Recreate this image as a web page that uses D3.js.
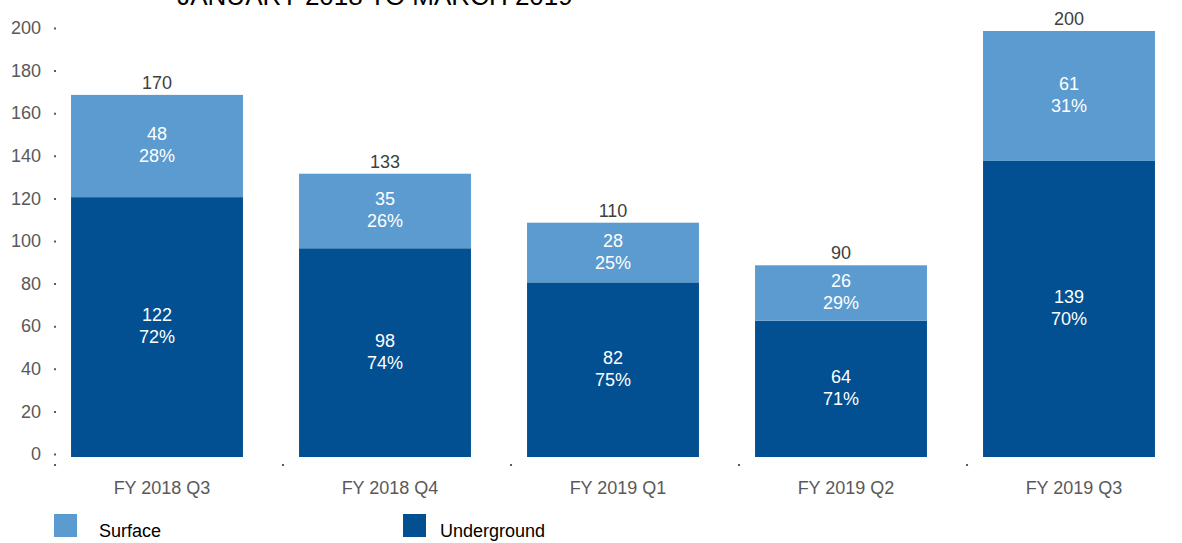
<!DOCTYPE html>
<html>
<head>
<meta charset="utf-8">
<script src="https://cdn.jsdelivr.net/npm/d3@7"></script>
<style>
  body { margin: 0; background: #fff; }
  svg { font-family: "Liberation Sans", Arial, sans-serif; }
</style>
</head>
<body>
<svg width="1182" height="543"></svg>
<script>
const categories = ["FY 2018 Q3", "FY 2018 Q4", "FY 2019 Q1", "FY 2019 Q2", "FY 2019 Q3"];
const underground = [122, 98, 82, 64, 139];
const surface = [48, 35, 28, 26, 61];
const totals = [170, 133, 110, 90, 200];
const undergroundPct = ["72%", "74%", "75%", "71%", "70%"];
const surfacePct = ["28%", "26%", "25%", "29%", "31%"];
const yTicks = [0, 20, 40, 60, 80, 100, 120, 140, 160, 180, 200];

const colors = { Surface: "#5b9bd0", Underground: "#024f91" };

const svg = d3.select("svg");

const x = d3.scaleBand()
    .domain(categories)
    .range([43, 1183])
    .paddingInner(0.246)
    .paddingOuter(0.123);

const y = d3.scaleLinear()
    .domain([0, 200])
    .range([457, 31]);

// title, cut off at the top like the source
svg.append("text")
    .attr("x", 375)
    .attr("y", 5)
    .attr("text-anchor", "middle")
    .attr("font-size", 26)
    .attr("fill", "#000")
    .text("JANUARY 2018 TO MARCH 2019");

// y axis: dots instead of tick lines
const yAxis = svg.append("g")
    .attr("transform", "translate(55,-3)")
    .call(d3.axisLeft(y).tickValues(yTicks).tickSize(2).tickPadding(12));
yAxis.select(".domain").remove();
yAxis.selectAll(".tick line").attr("stroke", "#595959").attr("stroke-width", 2).attr("x1", -1).attr("x2", 1);
yAxis.selectAll(".tick text").attr("font-size", 18).attr("fill", "#595959").attr("font-family", "Liberation Sans, Arial, sans-serif");

// x axis dots between categories
svg.append("g")
    .selectAll("rect")
    .data(categories)
    .join("rect")
    .attr("x", d => x(d) - 17)
    .attr("y", 464)
    .attr("width", 2)
    .attr("height", 2)
    .attr("fill", "#595959");

// category labels
svg.append("g")
    .selectAll("text")
    .data(categories)
    .join("text")
    .attr("x", d => x(d) + x.bandwidth() / 2 + 5)
    .attr("y", 494)
    .attr("text-anchor", "middle")
    .attr("font-size", 18)
    .attr("fill", "#595959")
    .text(d => d);

const rows = categories.map((c, i) => ({
    cat: c, u: underground[i], s: surface[i], t: totals[i],
    up: undergroundPct[i], sp: surfacePct[i]
}));

const bars = svg.append("g");

// underground segment
bars.selectAll(".ug")
    .data(rows)
    .join("rect")
    .attr("class", "ug")
    .attr("x", d => x(d.cat))
    .attr("width", x.bandwidth())
    .attr("y", d => y(d.u))
    .attr("height", d => y(0) - y(d.u))
    .attr("fill", colors.Underground);

// surface segment
bars.selectAll(".sf")
    .data(rows)
    .join("rect")
    .attr("class", "sf")
    .attr("x", d => x(d.cat))
    .attr("width", x.bandwidth())
    .attr("y", d => y(d.u + d.s))
    .attr("height", d => y(d.u) - y(d.u + d.s))
    .attr("fill", colors.Surface);

function segLabel(sel, mid, val, pct) {
    const g = sel.append("text")
        .attr("text-anchor", "middle")
        .attr("font-size", 18)
        .attr("fill", "#fff");
    g.append("tspan").attr("x", d => x(d.cat) + x.bandwidth() / 2).attr("y", d => mid(d) - 6).text(val);
    g.append("tspan").attr("x", d => x(d.cat) + x.bandwidth() / 2).attr("y", d => mid(d) + 16).text(pct);
}

const lab = svg.append("g").selectAll("g").data(rows).join("g");
segLabel(lab, d => (y(0) + y(d.u)) / 2, d => d.u, d => d.up);
segLabel(lab, d => (y(d.u) + y(d.u + d.s)) / 2, d => d.s, d => d.sp);

// totals above bars
lab.append("text")
    .attr("x", d => x(d.cat) + x.bandwidth() / 2)
    .attr("y", d => y(d.t) - 6)
    .attr("text-anchor", "middle")
    .attr("font-size", 18)
    .attr("fill", "#404040")
    .text(d => d.t);

// legend
const legendData = [
    { label: "Surface", color: colors.Surface, x: 54, tx: 99 },
    { label: "Underground", color: colors.Underground, x: 403, tx: 440 }
];
const legend = svg.append("g");
legend.selectAll("rect")
    .data(legendData)
    .join("rect")
    .attr("x", d => d.x)
    .attr("y", 514)
    .attr("width", 23)
    .attr("height", 23)
    .attr("fill", d => d.color);
legend.selectAll("text")
    .data(legendData)
    .join("text")
    .attr("x", d => d.tx)
    .attr("y", 537)
    .attr("font-size", 18)
    .attr("fill", "#000")
    .text(d => d.label);
</script>
</body>
</html>
